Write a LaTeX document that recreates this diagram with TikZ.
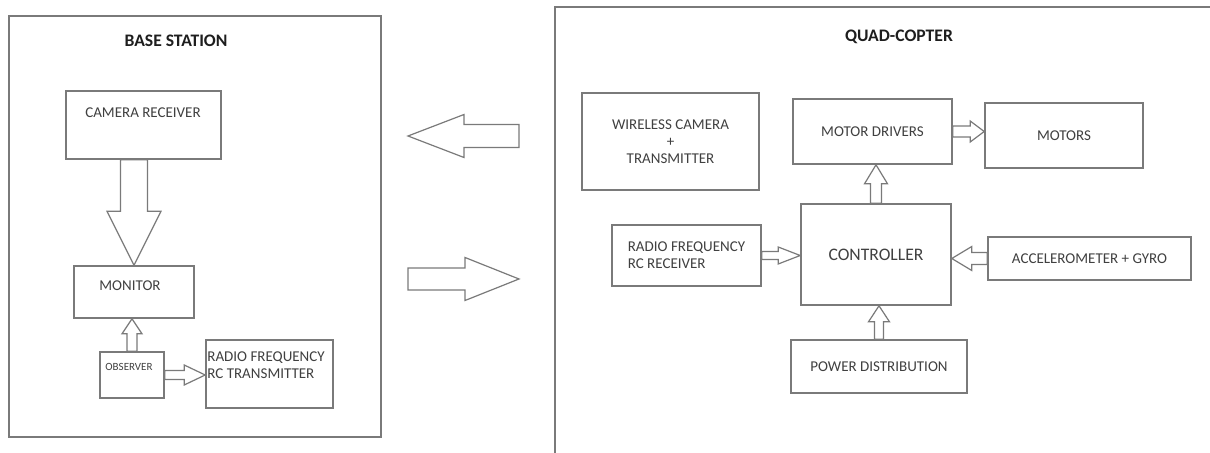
\documentclass[tikz,border=0pt]{standalone}
\usepackage{fontspec}
\setmainfont{Carlito}
\usepackage{tikz}
\usetikzlibrary{calc}
\definecolor{LineGrey}{HTML}{7A7A7A}
\definecolor{TextGrey}{HTML}{404040}
\definecolor{TitleBlack}{HTML}{1E1E1E}

\newcommand{\blockarrow}[5]{%
  \coordinate (ba-h) at ($(#2)!#5!(#1)$);
  \draw[fatarrow] ($(#1)!#3!90:(#2)$) -- ($(ba-h)!#3!-90:(#1)$) -- ($(ba-h)!#4!-90:(#1)$) -- (#2)
    -- ($(ba-h)!#4!90:(#1)$) -- ($(ba-h)!#3!90:(#1)$) -- ($(#1)!#3!-90:(#2)$) -- cycle;}

\begin{document}
\begin{tikzpicture}[
    x=0.5pt, y=-0.5pt,
    blk/.style={draw=LineGrey, line width=0.8pt, inner sep=0pt, align=center, text=TextGrey, font=\fontsize{7.5}{8.5}\selectfont, anchor=center},
    txt/.style={inner sep=0pt, text=TextGrey, font=\fontsize{7.5}{8.5}\selectfont},
    title/.style={inner sep=0pt, text=TitleBlack, font=\fontsize{8.8}{10}\selectfont\bfseries},
    fatarrow/.style={draw=LineGrey, line width=0.6pt, fill=white, line join=miter}
]
\useasboundingbox (0,0) rectangle (1210,453);
\fill[white] (0,0) rectangle (1210,453);

\draw[LineGrey, line width=0.8pt] (9,16) rectangle (381,437);
\draw[LineGrey, line width=0.8pt] (555,453) |- (1210,7);

\node[title] (bstitle) at (176,41) {BASE STATION};
\node[title] (qctitle) at (899,37) {QUAD-COPTER};

\node[blk, minimum width=77.5pt, minimum height=34pt] (cam) at (143.5,125) {};
\node[txt] (camtxt) at (143,113) {CAMERA RECEIVER};
\node[blk, minimum width=60pt, minimum height=26pt] (mon) at (134,292) {};
\node[txt] (montxt) at (130,286) {MONITOR};
\node[blk, minimum width=32pt, minimum height=23pt] (obs) at (132,375) {};
\node[txt, font=\fontsize{5.5}{6.5}\selectfont] (obstxt) at (129,367) {OBSERVER};
\node[blk, minimum width=63.5pt, minimum height=34pt] (rft) at (269.5,374) {};
\node[txt, anchor=north west, align=left] (rfttxt) at (207,351) {RADIO FREQUENCY\\RC TRANSMITTER};

\node[blk, minimum width=88.5pt, minimum height=48.5pt] (wcam) at (670.5,141.5) {WIRELESS CAMERA\\+\\TRANSMITTER};
\node[blk, minimum width=79.5pt, minimum height=32.5pt] (md) at (872.5,131.5) {MOTOR DRIVERS};
\node[blk, minimum width=79pt, minimum height=32.5pt] (mot) at (1064,135.5) {MOTORS};
\node[blk, minimum width=75pt, minimum height=50.5pt, font=\fontsize{8.8}{10}\selectfont] (ctrl) at (876,254.5) {CONTROLLER};
\node[blk, minimum width=74.5pt, minimum height=30.5pt, align=left] (rfr) at (686.5,255.5) {RADIO FREQUENCY\\RC RECEIVER};
\node[blk, minimum width=101.5pt, minimum height=21.5pt] (acc) at (1089.5,258.5) {ACCELEROMETER + GYRO};
\node[blk, minimum width=88pt, minimum height=26.5pt] (pwr) at (879,366.5) {POWER DISTRIBUTION};

\coordinate (ml-tail) at (519,136);
\coordinate (ml-tip) at (408,136);
\coordinate (mr-tail) at (408,279);
\coordinate (mr-tip) at (519,279);
\coordinate (cm-s) at (mon.north |- cam.south);
\coordinate (om-e) at (mon.south -| obs.north);
\coordinate (or-e) at (rft.west |- obs.east);
\coordinate (mm-e) at (mot.west |- md.east);
\coordinate (cd-e) at (md.south -| ctrl.north);
\coordinate (rc-e) at (ctrl.west |- rfr.east);
\coordinate (ac-e) at (ctrl.east |- acc.west);
\coordinate (pc-e) at (ctrl.south -| pwr.north);

\blockarrow{cm-s}{mon.north}{6.75pt}{13.5pt}{27pt}
\blockarrow{obs.north}{om-e}{2.5pt}{5pt}{7.5pt}
\blockarrow{obs.east}{or-e}{2.25pt}{5pt}{10.5pt}
\blockarrow{ml-tail}{ml-tip}{5.75pt}{10.75pt}{28pt}
\blockarrow{mr-tail}{mr-tip}{5.5pt}{10.75pt}{27pt}
\blockarrow{md.east}{mm-e}{2.75pt}{5.25pt}{7pt}
\blockarrow{ctrl.north}{cd-e}{2.75pt}{5.75pt}{9.5pt}
\blockarrow{rfr.east}{rc-e}{2pt}{4.25pt}{11pt}
\blockarrow{acc.west}{ac-e}{3pt}{6pt}{10pt}
\blockarrow{pwr.north}{pc-e}{2.25pt}{5.25pt}{8pt}
\end{tikzpicture}
\end{document}
